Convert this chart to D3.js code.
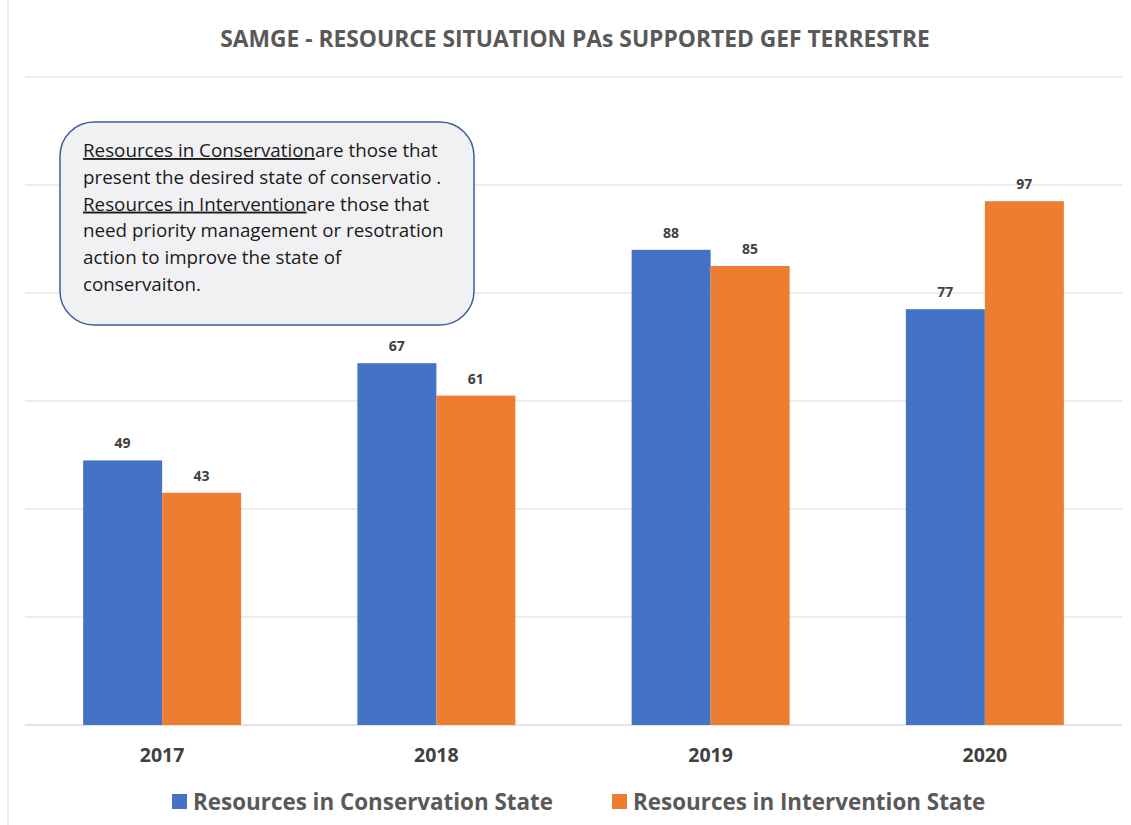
<!DOCTYPE html>
<html>
<head>
<meta charset="utf-8">
<script src="https://cdn.jsdelivr.net/npm/d3@7"></script>
<style>
  body { margin: 0; background: #fff; }
  svg { display: block; }
  text { font-family: "Open Sans", sans-serif; }
</style>
</head>
<body>
<svg id="chart" width="1131" height="825"></svg>
<script>
const years = ['2017', '2018', '2019', '2020'];
const conservation = [49, 67, 88, 77];
const intervention = [43, 61, 85, 97];
const seriesNames = ['Resources in Conservation State', 'Resources in Intervention State'];
const colors = ['#4472c4', '#ed7d31'];
const yTicks = [0, 20, 40, 60, 80, 100, 120];

const noteLines = [
  { u: 'Resources in Conservation', rest: 'are those that' },
  { u: '', rest: 'present the desired state of conservatio .' },
  { u: 'Resources in Intervention', rest: 'are those that' },
  { u: '', rest: 'need priority management or resotration' },
  { u: '', rest: 'action to improve the state of' },
  { u: '', rest: 'conservaiton.' }
];

const svg = d3.select('#chart');
const plotLeft = 25, plotRight = 1122, plotTop = 77, plotBottom = 725;

const x0 = d3.scaleBand().domain(years).range([plotLeft, plotRight]).paddingInner(0.424).paddingOuter(0.212);
const x1 = d3.scaleBand().domain([0, 1]).range([0, x0.bandwidth()]);
const y = d3.scaleLinear().domain([0, 120]).range([plotBottom, plotTop]);

// frame edge
svg.append('line')
  .attr('x1', 8).attr('x2', 8).attr('y1', 0).attr('y2', 825)
  .attr('stroke', '#d9d9d9');

// gridlines
svg.append('g')
  .selectAll('line')
  .data(yTicks)
  .join('line')
  .attr('x1', plotLeft).attr('x2', plotRight)
  .attr('y1', d => y(d)).attr('y2', d => y(d))
  .attr('stroke', d => d === 0 ? '#c8c8c8' : '#d9d9d9')
  .attr('stroke-width', 1);

// title
svg.append('text')
  .attr('x', 575).attr('y', 47)
  .attr('text-anchor', 'middle')
  .attr('font-size', 22.8).attr('font-weight', 'bold')
  .attr('fill', '#595959')
  .text('SAMGE - RESOURCE SITUATION PAs SUPPORTED GEF TERRESTRE');

// bars
const rows = years.map((yr, i) => ({ yr, vals: [conservation[i], intervention[i]] }));
const groups = svg.append('g')
  .selectAll('g')
  .data(rows)
  .join('g')
  .attr('transform', d => `translate(${x0(d.yr)},0)`);

groups.selectAll('rect')
  .data(d => d.vals.map((v, k) => ({ v, k })))
  .join('rect')
  .attr('x', d => x1(d.k))
  .attr('width', x1.bandwidth())
  .attr('y', d => y(d.v))
  .attr('height', d => y(0) - y(d.v))
  .attr('fill', d => colors[d.k]);

groups.selectAll('text')
  .data(d => d.vals.map((v, k) => ({ v, k })))
  .join('text')
  .attr('x', d => x1(d.k) + x1.bandwidth() / 2)
  .attr('y', d => y(d.v) - 12)
  .attr('text-anchor', 'middle')
  .attr('font-size', 14).attr('font-weight', 'bold')
  .attr('fill', '#404040')
  .text(d => d.v);

// x axis labels
svg.append('g')
  .selectAll('text')
  .data(years)
  .join('text')
  .attr('x', d => x0(d) + x0.bandwidth() / 2)
  .attr('y', 762)
  .attr('text-anchor', 'middle')
  .attr('font-size', 19.5).attr('font-weight', 'bold')
  .attr('fill', '#404040')
  .text(d => d);

// legend
const legendX = [172, 612];
const leg = svg.append('g')
  .selectAll('g')
  .data(seriesNames)
  .join('g')
  .attr('transform', (d, i) => `translate(${legendX[i]},794)`);
leg.append('rect').attr('width', 15).attr('height', 15).attr('fill', (d, i) => colors[i]);
leg.append('text')
  .attr('x', 21).attr('y', 15.5)
  .attr('font-size', 22.4).attr('font-weight', 'bold')
  .attr('fill', '#595959')
  .text(d => d);

// note box
svg.append('rect')
  .attr('x', 60).attr('y', 122).attr('width', 414).attr('height', 203)
  .attr('rx', 34).attr('ry', 34)
  .attr('fill', '#f1f1f3')
  .attr('stroke', '#3c5f9e').attr('stroke-width', 1.5);

const note = svg.append('text')
  .attr('font-size', 18.8)
  .attr('fill', '#1a1a1a');

noteLines.forEach((ln, i) => {
  const t = note.append('tspan').attr('x', 83).attr('y', 157 + i * 26.8);
  if (ln.u) t.append('tspan').attr('text-decoration', 'underline').text(ln.u);
  t.append('tspan').text(ln.rest);
});
</script>
</body>
</html>
